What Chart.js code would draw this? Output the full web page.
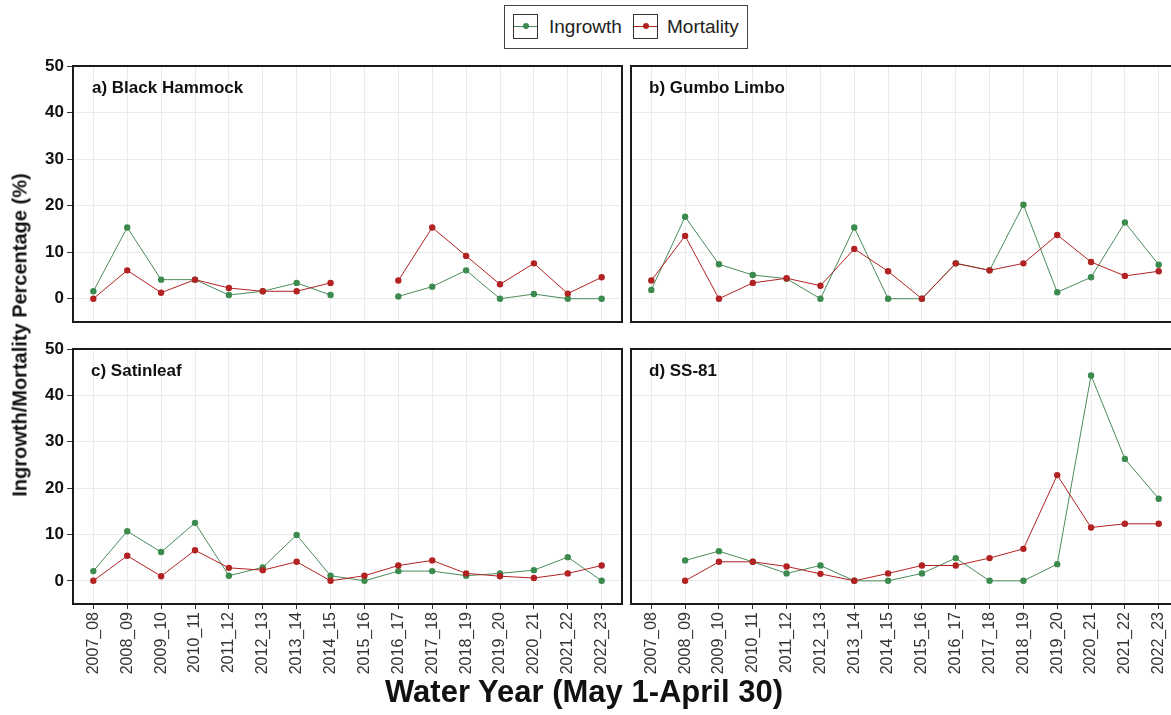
<!DOCTYPE html>
<html>
<head>
<meta charset="utf-8">
<script src="https://cdn.jsdelivr.net/npm/chart.js@4.4.0/dist/chart.umd.min.js"></script>
<style>
  html, body { margin: 0; padding: 0; background: #fff; overflow: hidden; }
  body { width: 1171px; height: 715px; position: relative; font-family: "Liberation Sans", Arial, sans-serif; }
  canvas { position: absolute; }
  .lab { position: absolute; font-weight: bold; font-size: 17px; color: #111; line-height: 1; white-space: nowrap; }
  #legend { position: absolute; left: 504px; top: 5px; width: 242px; height: 42px; border: 1px solid #444; }
  .key { position: absolute; top: 8px; width: 23px; height: 23px; border: 1px solid #333; }
  .key .ln { position: absolute; left: 0; right: 0; top: 11px; height: 1px; }
  .key .dt { position: absolute; left: 9px; top: 8px; width: 6px; height: 6px; border-radius: 50%; }
  .ltxt { position: absolute; top: 10px; font-size: 19px; color: #222; line-height: 1.2; }
  #ytitle { position: absolute; left: 20px; top: 335px; transform: translate(-50%, -50%) rotate(-90deg); font-weight: bold; font-size: 20px; white-space: nowrap; color: #111; }
  #xtitle { position: absolute; left: 584px; top: 692px; transform: translate(-50%, -50%); font-weight: bold; font-size: 31px; white-space: nowrap; color: #111; }
</style>
</head>
<body>

<div id="legend">
  <div class="key" style="left:8px"><div class="ln" style="background:#4a8a5a"></div><div class="dt" style="background:#3b8a4e"></div></div>
  <div class="ltxt" style="left:44px">Ingrowth</div>
  <div class="key" style="left:128px"><div class="ln" style="background:#b22222"></div><div class="dt" style="background:#b22222"></div></div>
  <div class="ltxt" style="left:162px">Mortality</div>
</div>

<canvas id="pa" width="626" height="284" style="left:0px;top:52px"></canvas>
<canvas id="pb" width="556" height="284" style="left:627px;top:52px"></canvas>
<canvas id="pc" width="626" height="349" style="left:0px;top:335px"></canvas>
<canvas id="pd" width="556" height="349" style="left:627px;top:335px"></canvas>

<div class="lab" style="left:92px;top:79px">a) Black Hammock</div>
<div class="lab" style="left:649px;top:79px">b) Gumbo Limbo</div>
<div class="lab" style="left:91px;top:362px">c) Satinleaf</div>
<div class="lab" style="left:649px;top:362px">d) SS-81</div>

<div id="ytitle">Ingrowth/Mortality Percentage (%)</div>
<div id="xtitle">Water Year (May 1-April 30)</div>

<script>
// water years on the x axis
const years = ["2007_08", "2008_09", "2009_10", "2010_11", "2011_12", "2012_13", "2013_14", "2014_15",
  "2015_16", "2016_17", "2017_18", "2018_19", "2019_20", "2020_21", "2021_22", "2022_23"];
const yTicks = [0, 10, 20, 30, 40, 50];

// a) Black Hammock
const bhIngrowth = [1.6, 15.3, 4.1, 4.1, 0.8, 1.6, 3.4, 0.8, null, 0.5, 2.6, 6.1, 0, 1.0, 0, 0];
const bhMortality = [0, 6.1, 1.3, 4.1, 2.3, 1.6, 1.6, 3.4, null, 3.9, 15.3, 9.2, 3.1, 7.6, 1.1, 4.6];
// b) Gumbo Limbo
const glIngrowth = [1.9, 17.6, 7.4, 5.1, 4.3, 0, 15.3, 0, 0, 7.6, 6.1, 20.2, 1.4, 4.6, 16.4, 7.3];
const glMortality = [3.9, 13.5, 0, 3.4, 4.4, 2.8, 10.7, 5.9, 0, 7.6, 6.1, 7.6, 13.7, 7.9, 4.9, 5.9];
// c) Satinleaf
const slIngrowth = [2.1, 10.7, 6.2, 12.5, 1.1, 2.9, 9.9, 1.1, 0, 2.1, 2.1, 1.1, 1.6, 2.3, 5.1, 0];
const slMortality = [0, 5.4, 1.0, 6.6, 2.8, 2.3, 4.1, 0, 1.1, 3.3, 4.4, 1.6, 1.0, 0.6, 1.6, 3.3];
// d) SS-81
const ssIngrowth = [null, 4.4, 6.4, 4.1, 1.6, 3.3, 0, 0, 1.6, 4.9, 0, 0, 3.6, 44.3, 26.3, 17.7];
const ssMortality = [null, 0, 4.1, 4.1, 3.1, 1.5, 0, 1.6, 3.3, 3.3, 4.9, 6.9, 22.8, 11.5, 12.3, 12.3];

const green = "#3b8a4e";
const red = "#b22222";

// black frame round each panel
const panelBox = {
  id: "panelBox",
  afterDraw(chart) {
    const a = chart.chartArea;
    const c = chart.ctx;
    c.save();
    c.strokeStyle = "#1a1a1a";
    c.lineWidth = 2;
    c.strokeRect(a.left, a.top, a.right - a.left, a.bottom - a.top);
    c.restore();
  }
};

function toPoints(vals) {
  return vals.map((v, i) => ({ x: i, y: v }));
}

function makePanel(id, ingrowth, mortality, showY, showX) {
  const ctx = document.getElementById(id).getContext("2d");
  return new Chart(ctx, {
    type: "line",
    data: {
      datasets: [
        {
          label: "Ingrowth",
          data: toPoints(ingrowth),
          borderColor: "#4a8a5a",
          backgroundColor: green,
          pointBackgroundColor: green,
          borderWidth: 1,
          pointRadius: 3.2,
          pointBorderWidth: 0,
          order: 1
        },
        {
          label: "Mortality",
          data: toPoints(mortality),
          borderColor: red,
          backgroundColor: red,
          pointBackgroundColor: red,
          borderWidth: 1,
          pointRadius: 3.2,
          pointBorderWidth: 0,
          order: 0
        }
      ]
    },
    options: {
      responsive: false,
      animation: false,
      devicePixelRatio: 1,
      // fixed padding so every panel gets the same plot box
      layout: { padding: { top: 14, right: 4, left: 0, bottom: showX ? 0 : 10 } },
      plugins: { legend: { display: false }, tooltip: { enabled: false } },
      scales: {
        x: {
          type: "linear",
          min: -0.6,
          max: 15.6,
          afterBuildTicks: (s) => { s.ticks = years.map((_, i) => ({ value: i })); },
          afterFit: (s) => { s.height = showX ? 80 : 4; },
          border: { display: false },
          grid: { color: "#ebebeb", lineWidth: 1, drawTicks: showX, tickLength: 5, tickColor: "#333" },
          ticks: {
            display: showX,
            autoSkip: false,
            maxRotation: 90,
            minRotation: 90,
            padding: 3,
            color: "#333",
            font: { family: "Liberation Sans", size: 16 },
            callback: (v) => years[v]
          }
        },
        y: {
          min: -5,
          max: 50,
          afterBuildTicks: (s) => { s.ticks = yTicks.map((v) => ({ value: v })); },
          afterFit: (s) => { s.width = showY ? 73 : 4; },
          border: { display: false },
          grid: { color: "#ebebeb", lineWidth: 1, drawTicks: showY, tickLength: 6, tickColor: "#333" },
          ticks: {
            display: showY,
            padding: 3,
            color: "#111",
            font: { family: "Liberation Sans", size: 17, weight: "bold" }
          }
        }
      }
    },
    plugins: [panelBox]
  });
}

makePanel("pa", bhIngrowth, bhMortality, true, false);
makePanel("pb", glIngrowth, glMortality, false, false);
makePanel("pc", slIngrowth, slMortality, true, true);
makePanel("pd", ssIngrowth, ssMortality, false, true);
</script>
</body>
</html>
